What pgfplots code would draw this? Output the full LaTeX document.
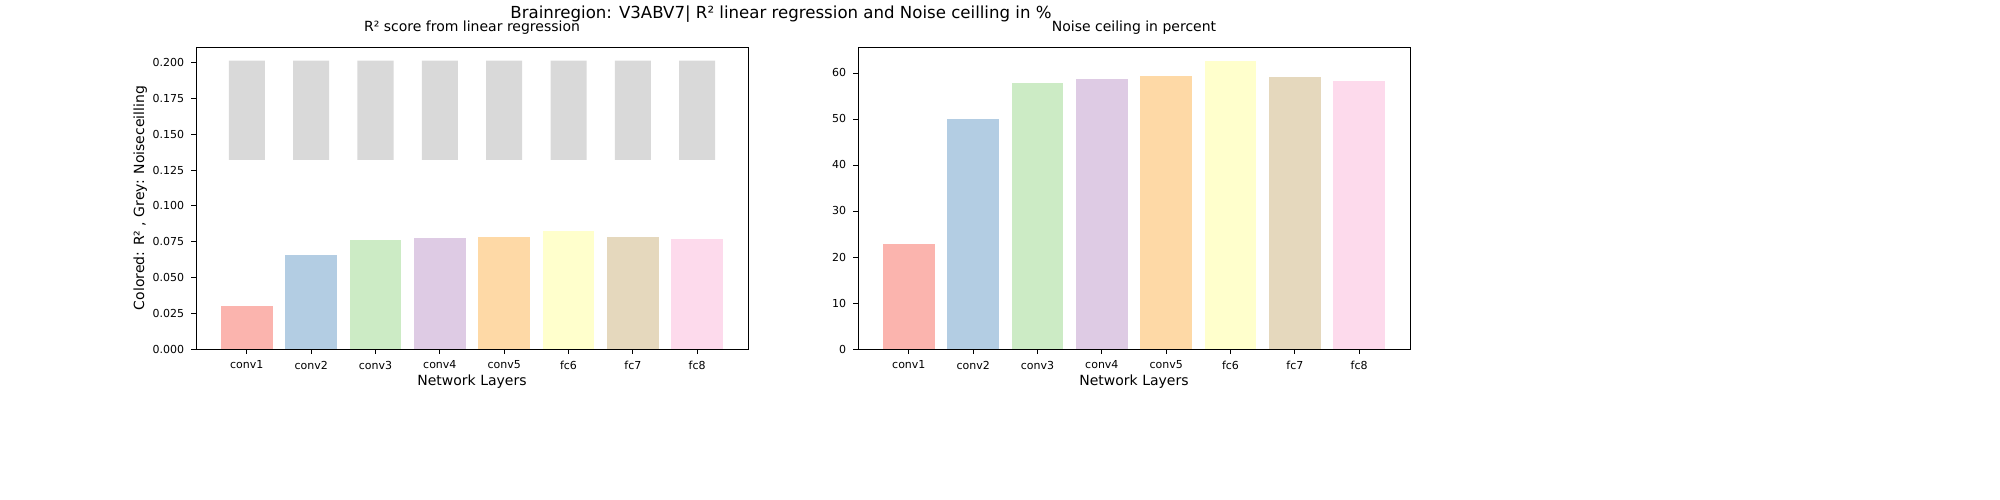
\documentclass[border=0pt]{standalone}
\usepackage{pgfplots}
\pgfplotsset{compat=1.18}
\usepackage{fontspec}
\setmainfont{DejaVu Sans}
\definecolor{p1}{HTML}{FBB4AE}\definecolor{p2}{HTML}{B3CDE3}\definecolor{p3}{HTML}{CCEBC5}
\definecolor{p4}{HTML}{DECBE4}\definecolor{p5}{HTML}{FED9A6}\definecolor{p6}{HTML}{FFFFCC}
\definecolor{p7}{HTML}{E5D8BD}\definecolor{p8}{HTML}{FDDAEC}\definecolor{gr}{HTML}{D9D9D9}
\pgfplotsset{
 base/.style={scale only axis, width=276bp, height=151bp, xmin=-0.79, xmax=7.79,
  xtick={0,...,7}, xticklabels={conv1,conv2,conv3,conv4,conv5,fc6,fc7,fc8},
  tick align=outside, major tick length=2.4bp, tick style={black, line width=0.4bp},
  ticklabel style={font=\fontsize{5.5bp}{6bp}\selectfont},
  /pgf/number format/assume math mode=true, axis line style={line width=0.4bp},
  xtick pos=bottom, ytick pos=left,
  title style={font=\fontsize{7bp}{8bp}\selectfont, yshift=-3bp},
  label style={font=\fontsize{7bp}{8bp}\selectfont},
  xlabel={Network Layers}, xlabel style={yshift=4bp}},
 bb/.style={ybar, bar shift=0pt, draw=none, fill=#1}
}
\begin{document}
\begin{tikzpicture}
\useasboundingbox (0bp,0bp) rectangle (1000bp,250bp);
\node[font=\fontsize{8.3bp}{9bp}\selectfont] at (390.5bp,243bp) {Brainregion: V3ABV7| R² linear regression and Noise ceilling in \%};
\begin{axis}[base, at={(98bp,75.5bp)}, anchor=south west, ymin=0, ymax=0.211,
  ytick={0,0.025,...,0.2}, yticklabel style={/pgf/number format/.cd,fixed,fixed zerofill,precision=3},
  title={R² score from linear regression}, ylabel={Colored: R² , Grey: Noiseceilling}, ylabel style={yshift=-4bp}]
\addplot[bb=gr, bar width=0.56] coordinates {(0,0.2014)(1,0.2014)(2,0.2014)(3,0.2014)(4,0.2014)(5,0.2014)(6,0.2014)(7,0.2014)};
\addplot[bb=white, bar width=0.58] coordinates {(0,0.132)(1,0.132)(2,0.132)(3,0.132)(4,0.132)(5,0.132)(6,0.132)(7,0.132)};
\addplot[bb=p1, bar width=0.8] coordinates {(0,0.030)};
\addplot[bb=p2, bar width=0.8] coordinates {(1,0.0657)};
\addplot[bb=p3, bar width=0.8] coordinates {(2,0.0762)};
\addplot[bb=p4, bar width=0.8] coordinates {(3,0.0776)};
\addplot[bb=p5, bar width=0.8] coordinates {(4,0.0783)};
\addplot[bb=p6, bar width=0.8] coordinates {(5,0.0825)};
\addplot[bb=p7, bar width=0.8] coordinates {(6,0.0783)};
\addplot[bb=p8, bar width=0.8] coordinates {(7,0.0769)};
\end{axis}
\begin{axis}[base, at={(429bp,75.5bp)}, anchor=south west, ymin=0, ymax=65.65,
  ytick={0,10,...,60}, title={Noise ceiling in percent}]
\addplot[bb=p1, bar width=0.8] coordinates {(0,22.8)};
\addplot[bb=p2, bar width=0.8] coordinates {(1,50.0)};
\addplot[bb=p3, bar width=0.8] coordinates {(2,57.8)};
\addplot[bb=p4, bar width=0.8] coordinates {(3,58.7)};
\addplot[bb=p5, bar width=0.8] coordinates {(4,59.3)};
\addplot[bb=p6, bar width=0.8] coordinates {(5,62.6)};
\addplot[bb=p7, bar width=0.8] coordinates {(6,59.1)};
\addplot[bb=p8, bar width=0.8] coordinates {(7,58.3)};
\end{axis}
\end{tikzpicture}
\end{document}
